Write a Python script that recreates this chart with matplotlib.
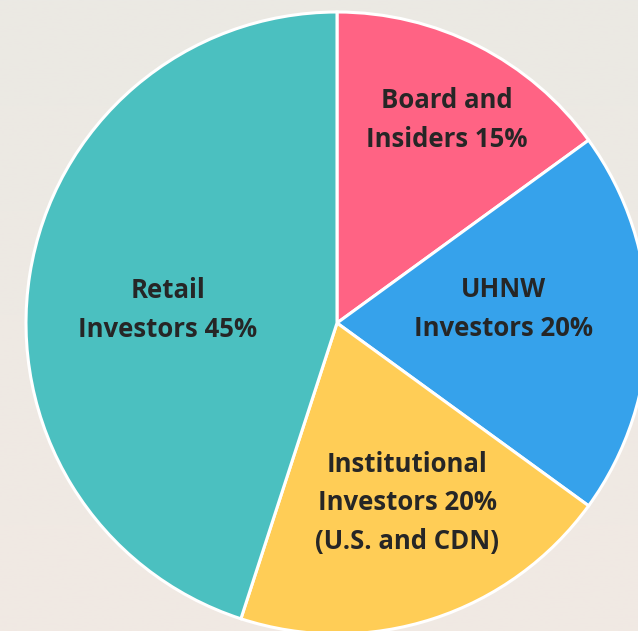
import matplotlib.pyplot as plt
import numpy as np

# Data
labels = ['Board and\nInsiders 15%', 'UHNW\nInvestors 20%',
          'Institutional\nInvestors 20%\n(U.S. and CDN)', 'Retail\nInvestors 45%']
shares = [15, 20, 20, 45]
colors = ['#FF6384', '#36A2EB', '#FFCD56', '#4BC0C0']

# label centres in pixel space (layout only)
label_pos = [(447, 120), (503, 309), (407, 503), (168, 310)]

W, H = 638, 631
fig = plt.figure(figsize=(W / 100, H / 100), dpi=100)

# soft background gradient
bg = fig.add_axes([0, 0, 1, 1])
grad = np.linspace(0, 1, 256).reshape(-1, 1)
top = np.array([235, 233, 228]) / 255
bot = np.array([241, 233, 227]) / 255
img = top + (bot - top) * grad[..., None]
bg.imshow(img, aspect='auto', extent=[0, 1, 0, 1])
bg.axis('off')

ax = fig.add_axes([0, 0, 1, 1])
ax.patch.set_alpha(0)

cx, cy, r = 337, 323, 311
wedges, _ = ax.pie(shares, colors=colors, startangle=90, counterclock=False,
                   center=(cx, -cy), radius=r,
                   wedgeprops=dict(edgecolor='white', linewidth=2.2))

for lab, (x, y) in zip(labels, label_pos):
    ax.text(x, -y, lab, ha='center', va='center', fontsize=18.5,
            fontweight='bold', color='#262626', family='Open Sans',
            linespacing=1.55)

# map data units to pixels (y measured downward from the top)
ax.set_xlim(0, W)
ax.set_ylim(-H, 0)
ax.set_aspect('auto')
ax.axis('off')

fig.savefig('out.png', dpi=100)
